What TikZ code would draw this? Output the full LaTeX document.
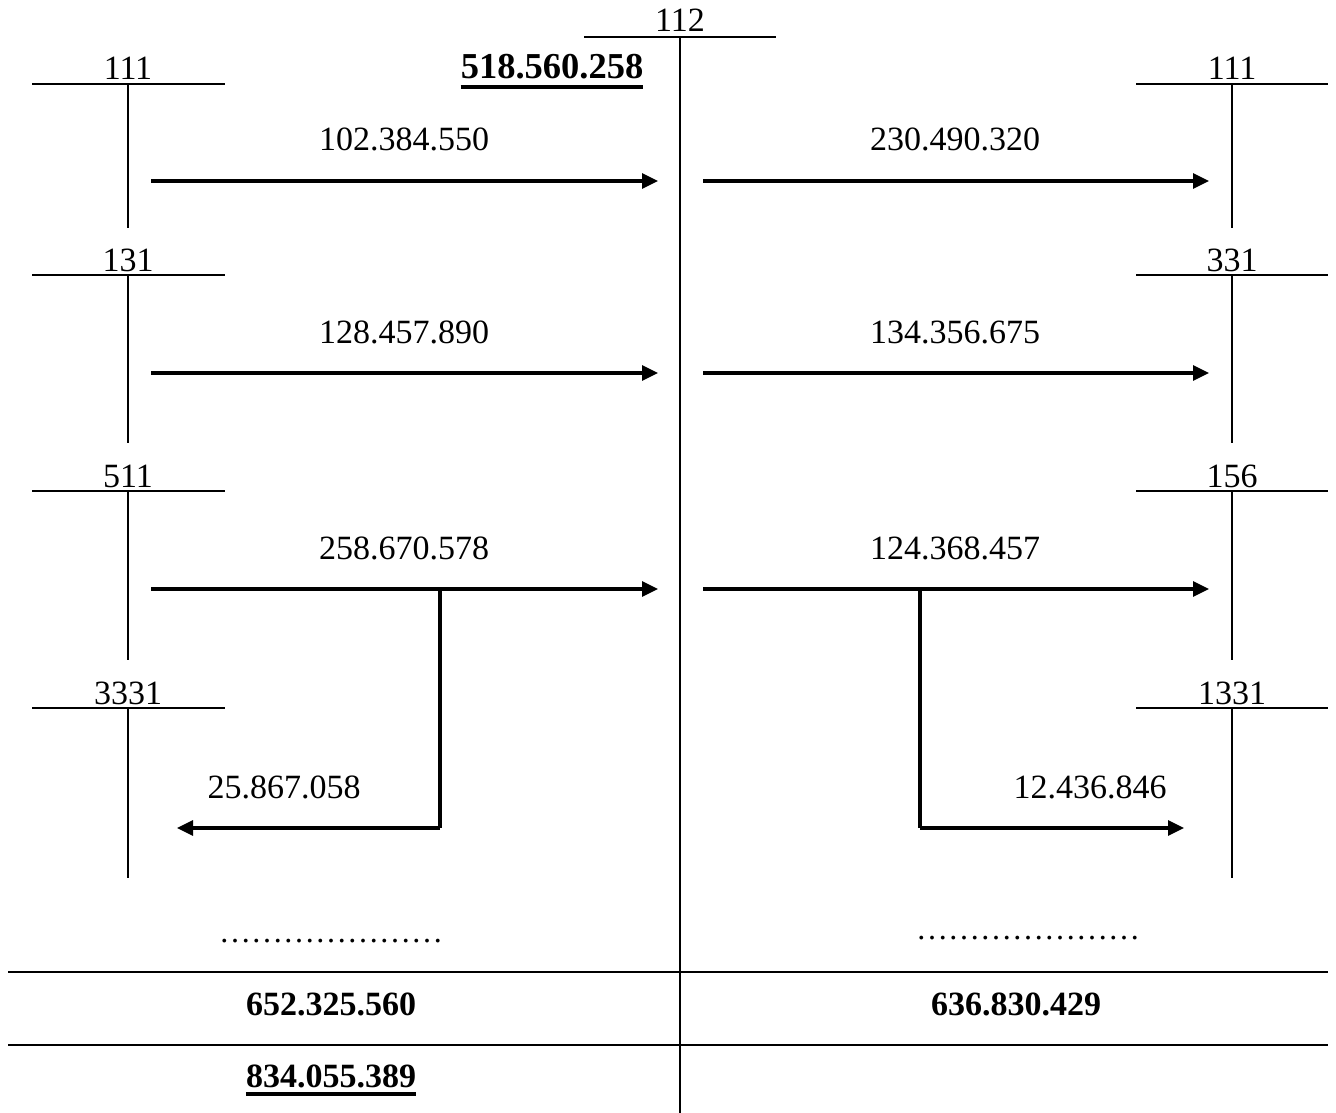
\documentclass[tikz,border=0pt]{standalone}
\usepackage{fontspec}
\setmainfont{Liberation Serif}
\usetikzlibrary{arrows.meta}
\begin{document}
\begin{tikzpicture}[x=1pt,y=-1pt,
  tl/.style={line width=1.6pt},
  ar/.style={line width=3.2pt,-{Triangle[length=16pt,width=15pt]}},
  br/.style={line width=3.2pt},
  lbl/.style={anchor=base,inner sep=0pt,font=\fontsize{34}{40}\selectfont},
  bl/.style={anchor=base,inner sep=0pt,font=\fontsize{34}{40}\selectfont\bfseries},
  dl/.style={anchor=base,inner sep=0pt,font=\fontsize{32}{40}\selectfont},
  ul/.style={line width=4.5pt}]
\useasboundingbox (0,0) rectangle (1336,1113);
% central account 112
\coordinate (Ca) at (584,37); \coordinate (Cb) at (776,37);
\coordinate (Ct) at (680,37); \coordinate (Ce) at (680,1113);
\draw[tl] (Ca) -- (Cb); \draw[tl] (Ct) -- (Ce);
\node[lbl] (Cl) at (680,32) {112};
\node[bl,font=\fontsize{36.5}{40}\selectfont\bfseries] (open) at (552,79) {518.560.258};
\draw[ul] ([yshift=-8pt]open.base west) -- ([yshift=-8pt]open.base east);
% left accounts
\foreach \n/\lab/\y/\e in {L1/111/84/228, L2/131/275/443, L3/511/491/660, L4/3331/708/878} {
  \coordinate (\n a) at (32,\y); \coordinate (\n b) at (225,\y);
  \coordinate (\n t) at (128,\y); \coordinate (\n e) at (128,\e);
  \draw[tl] (\n a) -- (\n b); \draw[tl] (\n t) -- (\n e);
  \node[lbl] (\n l) at (128,\y-4) {\lab};
}
% right accounts
\foreach \n/\lab/\y/\e in {R1/111/84/228, R2/331/275/443, R3/156/491/660, R4/1331/708/878} {
  \coordinate (\n a) at (1136,\y); \coordinate (\n b) at (1328,\y);
  \coordinate (\n t) at (1232,\y); \coordinate (\n e) at (1232,\e);
  \draw[tl] (\n a) -- (\n b); \draw[tl] (\n t) -- (\n e);
  \node[lbl] (\n l) at (1232,\y-4) {\lab};
}
% left arrows into 112
\foreach \n/\v/\y in {A1/102.384.550/181, A2/128.457.890/373, A3/258.670.578/589} {
  \coordinate (\n s) at (151,\y); \coordinate (\n t) at (658,\y);
  \draw[ar] (\n s) -- (\n t);
  \node[lbl] (\n l) at (404,\y-30) {\v};
}
% right arrows out of 112
\foreach \n/\v/\y in {B1/230.490.320/181, B2/134.356.675/373, B3/124.368.457/589} {
  \coordinate (\n s) at (703,\y); \coordinate (\n t) at (1209,\y);
  \draw[ar] (\n s) -- (\n t);
  \node[lbl] (\n l) at (955,\y-30) {\v};
}
% branches
\coordinate (Lb0) at (440,589); \coordinate (Lb1) at (440,828); \coordinate (Lb2) at (177,828);
\draw[br] (Lb0) -- (Lb1);
\draw[ar] (Lb1) -- (Lb2);
\node[lbl] (Lbl) at (284,798) {25.867.058};
\coordinate (Rb0) at (920,589); \coordinate (Rb1) at (920,828); \coordinate (Rb2) at (1184,828);
\draw[br] (Rb0) -- (Rb1);
\draw[ar] (Rb1) -- (Rb2);
\node[lbl] (Rbl) at (1090,798) {12.436.846};
% dots
\node[dl] (Ldots) at (331,942) {…………………};
\node[dl] (Rdots) at (1028,939) {…………………};
% totals
\coordinate (H1a) at (8,972); \coordinate (H1b) at (1328,972);
\coordinate (H2a) at (8,1045); \coordinate (H2b) at (1328,1045);
\draw[tl] (H1a) -- (H1b); \draw[tl] (H2a) -- (H2b);
\node[bl] (Ltot) at (331,1015) {652.325.560};
\node[bl] (Rtot) at (1016,1015) {636.830.429};
\node[bl] (close) at (331,1087) {834.055.389};
\draw[ul] ([yshift=-7pt]close.base west) -- ([yshift=-7pt]close.base east);
\end{tikzpicture}
\end{document}
